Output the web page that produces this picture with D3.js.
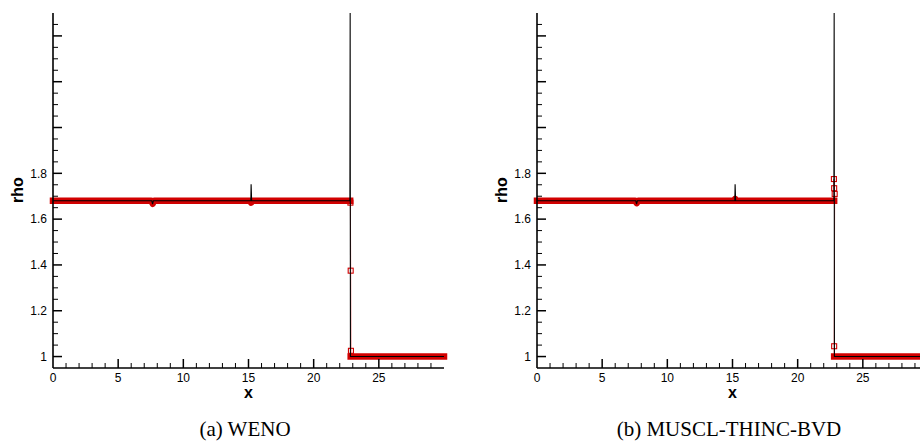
<!DOCTYPE html>
<html>
<head>
<meta charset="utf-8">
<script src="https://cdn.jsdelivr.net/npm/d3@7"></script>
<style>
  html, body { margin: 0; padding: 0; background: #fff; }
  svg { display: block; }
</style>
</head>
<body>
<svg id="chart" width="920" height="441"></svg>
<script>
// Axis ticks
const xTicks = [0, 5, 10, 15, 20, 25];
const yTicksLabeled = [1, 1.2, 1.4, 1.6, 1.8];
const yTicksMajor = [1, 1.2, 1.4, 1.6, 1.8, 2.0, 2.2, 2.4];

// Reference (exact) density profile, thin black line
const exactX   = [0, 7.58, 7.64, 7.70, 15.18, 15.20, 15.24, 22.78, 22.80, 22.82, 30];
const exactRho = [1.68, 1.68, 1.666, 1.68, 1.68, 1.752, 1.68, 1.68, 2.5, 1.0, 1.0];

// WENO: post-shock plateau, cells inside the shock, pre-shock plateau
const wenoLeftX    = [0, 7.55, 7.65, 7.75, 15.1, 15.2, 15.3, 22.8];
const wenoLeftRho  = [1.68, 1.68, 1.667, 1.68, 1.68, 1.672, 1.68, 1.68];
const wenoShockX   = [22.82, 22.84, 22.86];
const wenoShockRho = [1.672, 1.375, 1.025];
const wenoRightX   = [22.84, 30];
const wenoRightRho = [1.0, 1.0];

// MUSCL-THINC-BVD
const bvdLeftX    = [0, 7.55, 7.65, 7.75, 15.1, 15.2, 15.3, 22.8];
const bvdLeftRho  = [1.68, 1.68, 1.67, 1.68, 1.68, 1.688, 1.68, 1.68];
const bvdShockX   = [22.78, 22.8, 22.84, 22.8];
const bvdShockRho = [1.775, 1.735, 1.71, 1.045];
const bvdRightX   = [22.8, 30];
const bvdRightRho = [1.0, 1.0];

const zip = (xs, ys) => xs.map((x, i) => [x, ys[i]]);

const svg = d3.select("#chart");
const RED = "#d20000";

function drawPanel(left, caption, leftBand, shockCells, rightBand) {
  const x = d3.scaleLinear().domain([0, 30]).range([left, left + 391]);
  const y = d3.scaleLinear().domain([0.95, 2.5]).range([368, 13]);
  const g = svg.append("g");

  const line = d3.line().x(d => x(d[0])).y(d => y(d[1]));

  // thin red line joining all computed cells
  const all = leftBand.concat(shockCells.slice().sort((a, b) => b[1] - a[1])).concat(rightBand);
  g.append("path").attr("d", line(all))
    .attr("fill", "none").attr("stroke", RED).attr("stroke-width", 1).attr("opacity", 0.6);

  // densely packed square markers form solid bands on the plateaus
  [leftBand, rightBand].forEach(b => {
    g.append("path").attr("d", line(b))
      .attr("fill", "none").attr("stroke", RED)
      .attr("stroke-width", 6.5).attr("stroke-linecap", "square").attr("stroke-linejoin", "round");
  });

  // isolated cells inside the shock
  g.selectAll("rect.cell").data(shockCells).join("rect")
    .attr("class", "cell")
    .attr("x", d => x(d[0]) - 2.5).attr("y", d => y(d[1]) - 2.5)
    .attr("width", 5).attr("height", 5)
    .attr("fill", "none").attr("stroke", RED).attr("stroke-width", 1.1);

  // exact solution
  g.append("path").attr("d", line(zip(exactX, exactRho)))
    .attr("fill", "none").attr("stroke", "#000").attr("stroke-width", 1.1);

  // axes
  const ax = g.append("g").attr("stroke", "#000").attr("fill", "none");
  ax.append("line").attr("x1", x(0)).attr("x2", x(0)).attr("y1", y(2.5)).attr("y2", y(0.95))
    .attr("stroke-width", 1.6);
  ax.append("line").attr("x1", x(0)).attr("x2", x(30)).attr("y1", y(0.95)).attr("y2", y(0.95))
    .attr("stroke-width", 1.6);

  // y ticks: major every 0.2, minor every 0.05 (pointing inward)
  const yMinor = d3.range(21, 50).map(k => k * 0.05).filter(v => !yTicksMajor.some(m => Math.abs(m - v) < 1e-6));
  yMinor.forEach(v => ax.append("line")
    .attr("x1", x(0)).attr("x2", x(0) + 5).attr("y1", y(v)).attr("y2", y(v)).attr("stroke-width", 1));
  yTicksMajor.forEach(v => ax.append("line")
    .attr("x1", x(0)).attr("x2", x(0) + 9).attr("y1", y(v)).attr("y2", y(v)).attr("stroke-width", 1.5));

  // x ticks: major every 5, minor every 1
  d3.range(1, 30).filter(v => v % 5 !== 0).forEach(v => ax.append("line")
    .attr("x1", x(v)).attr("x2", x(v)).attr("y1", y(0.95)).attr("y2", y(0.95) - 5).attr("stroke-width", 1));
  xTicks.filter(v => v > 0).forEach(v => ax.append("line")
    .attr("x1", x(v)).attr("x2", x(v)).attr("y1", y(0.95)).attr("y2", y(0.95) - 9).attr("stroke-width", 1.5));

  const font = "'Liberation Sans', Arial, sans-serif";
  g.selectAll("text.yl").data(yTicksLabeled).join("text")
    .attr("class", "yl")
    .attr("x", x(0) - 6).attr("y", d => y(d) + 4.3)
    .attr("text-anchor", "end").attr("font-family", font).attr("font-size", 12)
    .text(d => d3.format("")(+d.toFixed(1)));

  g.selectAll("text.xl").data(xTicks).join("text")
    .attr("class", "xl")
    .attr("x", d => x(d)).attr("y", 382)
    .attr("text-anchor", "middle").attr("font-family", font).attr("font-size", 12)
    .text(d => d);

  g.append("text").attr("x", left + 195.5).attr("y", 398)
    .attr("text-anchor", "middle").attr("font-family", font).attr("font-size", 16)
    .attr("font-weight", "bold").text("x");

  g.append("text")
    .attr("transform", `translate(${left - 30},190) rotate(-90)`)
    .attr("text-anchor", "middle").attr("font-family", font).attr("font-size", 16)
    .attr("font-weight", "bold").text("rho");

  g.append("text").attr("x", left + 192).attr("y", 436)
    .attr("text-anchor", "middle").attr("font-family", "'Liberation Serif', 'Times New Roman', serif")
    .attr("font-size", 21).text(caption);
}

drawPanel(53, "(a) WENO",
  zip(wenoLeftX, wenoLeftRho), zip(wenoShockX, wenoShockRho), zip(wenoRightX, wenoRightRho));
drawPanel(537, "(b) MUSCL-THINC-BVD",
  zip(bvdLeftX, bvdLeftRho), zip(bvdShockX, bvdShockRho), zip(bvdRightX, bvdRightRho));
</script>
</body>
</html>
